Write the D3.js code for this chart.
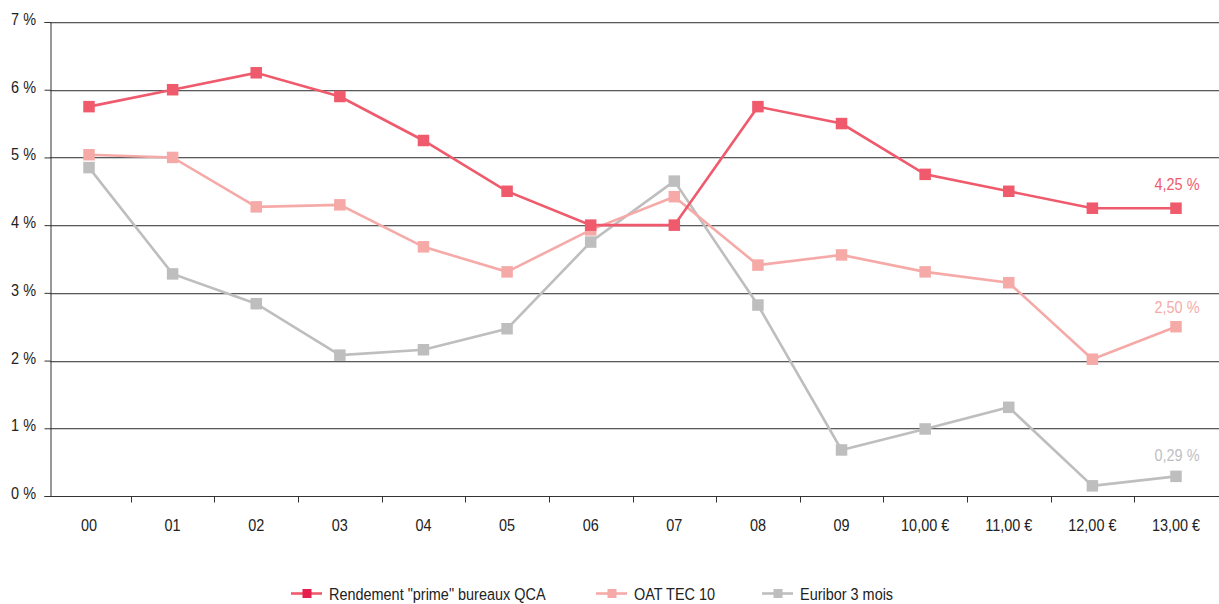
<!DOCTYPE html>
<html>
<head>
<meta charset="utf-8">
<script src="https://cdn.jsdelivr.net/npm/d3@7"></script>
<style>
  html, body { margin: 0; padding: 0; background: #fff; }
  svg { display: block; }
  text { font-family: "Liberation Sans", Arial, sans-serif; }
</style>
</head>
<body>
<svg id="chart" width="1219" height="604"></svg>
<script>
// Years (the last four are labelled as they appear in the source workbook)
const categories = ["00","01","02","03","04","05","06","07","08","09","10,00 €","11,00 €","12,00 €","13,00 €"];
const rendementQCA = [5.75, 6.0, 6.25, 5.9, 5.25, 4.5, 4.0, 4.0, 5.75, 5.5, 4.75, 4.5, 4.25, 4.25];
const oatTec10    = [5.04, 5.0, 4.27, 4.3, 3.68, 3.31, 3.93, 4.42, 3.41, 3.56, 3.31, 3.15, 2.02, 2.50];
const euribor3m   = [4.85, 3.28, 2.84, 2.08, 2.16, 2.47, 3.75, 4.65, 2.82, 0.68, 0.99, 1.31, 0.15, 0.29];
const yTicks = [0, 1, 2, 3, 4, 5, 6, 7];
const seriesNames = ['Rendement "prime" bureaux QCA', "OAT TEC 10", "Euribor 3 mois"];
const endLabels = ["4,25 %", "2,50 %", "0,29 %"];

const series = [
  { name: seriesNames[0], values: rendementQCA, line: "#ef5a6c", legendMarker: "#e6204e", label: endLabels[0], labelDy: -18 },
  { name: seriesNames[1], values: oatTec10, line: "#f6aaa8", legendMarker: "#f6aaa8", label: endLabels[1], labelDy: -14 },
  { name: seriesNames[2], values: euribor3m, line: "#bebebf", legendMarker: "#bebebf", label: endLabels[2], labelDy: -15 }
];

const svg = d3.select("#chart");
const plotLeft = 50, plotTop = 22, plotBottom = 496;
const FONT = 17, SQUEEZE = 0.85;   // narrow grotesque look

// Condensed text: draw at (x, y) then squeeze horizontally
function ctext(parent, x, y, str, anchor, fill) {
  return parent.append("text")
    .attr("transform", `translate(${x},${y}) scale(${SQUEEZE},1)`)
    .attr("text-anchor", anchor).attr("font-size", FONT).attr("fill", fill)
    .text(str);
}

const x = d3.scaleBand().domain(categories).range([47.2, 1217.8]);
const y = d3.scaleLinear().domain([0, 7]).range([plotBottom, plotTop]);
const cx = c => x(c) + x.bandwidth() / 2;

// Horizontal gridlines (dark rule with a soft shadow line below)
const grid = svg.append("g");
yTicks.filter(d => d > 0).forEach(d => {
  const yy = Math.round(y(d)) + 0.5;
  grid.append("line").attr("x1", plotLeft).attr("x2", 1219).attr("y1", yy + 1).attr("y2", yy + 1)
    .attr("stroke", "#cfcfcf").attr("stroke-width", 1);
  grid.append("line").attr("x1", plotLeft).attr("x2", 1219).attr("y1", yy).attr("y2", yy)
    .attr("stroke", "#5a5a5a").attr("stroke-width", 1);
});

// Y axis
const yAxis = svg.append("g").attr("transform", `translate(${plotLeft + 0.5},0)`)
  .call(d3.axisLeft(y).tickValues(yTicks).tickSize(6).tickFormat(""));
yAxis.select(".domain").attr("stroke", "#333");
yAxis.selectAll(".tick line").attr("stroke", "#333");
yTicks.forEach(d => ctext(svg, 36, Math.round(y(d)) + 2.5, d + " %", "end", "#222"));

// X axis with ticks at category boundaries
const xAxisG = svg.append("g").attr("transform", `translate(0,${Math.round(plotBottom) + 0.5})`);
xAxisG.append("line").attr("x1", plotLeft).attr("x2", 1219).attr("stroke", "#333");
xAxisG.selectAll("line.tk").data(categories.slice(1)).join("line").attr("class", "tk")
  .attr("x1", d => Math.round(x(d)) + 0.5).attr("x2", d => Math.round(x(d)) + 0.5)
  .attr("y1", 0).attr("y2", 6).attr("stroke", "#333");
categories.forEach(c => ctext(xAxisG, cx(c), 34, c, "middle", "#222"));

const line = d3.line().x((d, i) => cx(categories[i])).y(d => y(d));
const ms = 11.5;

// Draw series back to front: Euribor, OAT, then Rendement on top
[...series].reverse().forEach(s => {
  const g = svg.append("g");
  g.append("path").datum(s.values).attr("d", line)
    .attr("fill", "none").attr("stroke", s.line).attr("stroke-width", 2.6);
  g.selectAll("rect").data(s.values).join("rect")
    .attr("x", (d, i) => cx(categories[i]) - ms / 2)
    .attr("y", d => y(d) - ms / 2)
    .attr("width", ms).attr("height", ms).attr("fill", s.line);
  const last = s.values.length - 1;
  ctext(g, cx(categories[last]) + 1, y(s.values[last]) + s.labelDy, s.label, "middle", s.line);
});

// Legend
const legendX = [291, 596, 762];
const legend = svg.append("g").attr("transform", "translate(0,593.5)");
series.forEach((s, i) => {
  const lg = legend.append("g").attr("transform", `translate(${legendX[i]},0)`);
  lg.append("line").attr("x1", 0).attr("x2", 31).attr("y1", 0).attr("y2", 0)
    .attr("stroke", s.line).attr("stroke-width", 2.6);
  lg.append("rect").attr("x", 11.5).attr("y", -4.5).attr("width", 9).attr("height", 9).attr("fill", s.legendMarker);
  ctext(lg, 38, 6, s.name, "start", "#222");
});
</script>
</body>
</html>
